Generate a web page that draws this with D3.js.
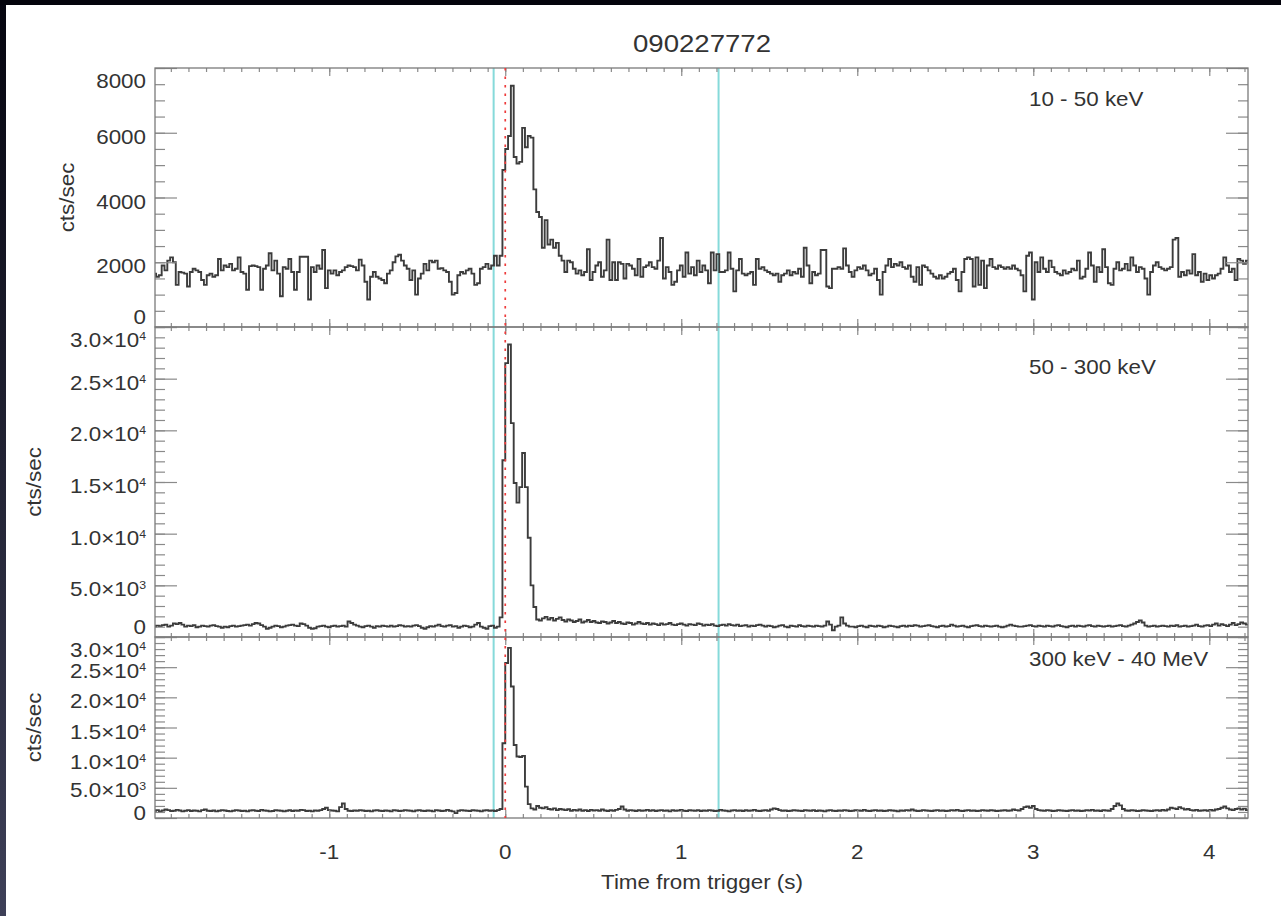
<!DOCTYPE html>
<html><head><meta charset="utf-8">
<script src="https://cdn.jsdelivr.net/npm/d3@7"></script>
<style>html,body{margin:0;padding:0;background:#fff;overflow:hidden}svg{display:block}</style>
</head><body>
<svg id="chart" width="1281" height="916"></svg>
<script>
// ---------------- DATA ----------------
const title = "090227772";
const xAxisTitle = "Time from trigger (s)";
const yAxisTitle = "cts/sec";
const binStart = -2.0;      // s, left edge of first bin
const binWidth = 0.016;     // s
const bandLabels = ["10 - 50 keV", "50 - 300 keV", "300 keV - 40 MeV"];
const xDomain = [-1.99, 4.22];
const xMajorTicks = [-1, 0, 1, 2, 3, 4];
const xTickLabels = ["-1", "0", "1", "2", "3", "4"];
const cyanTimes = [-0.066, 1.212];
const triggerTime = 0;

const yMaxes = [8000, 30000, 30000];
const yMajorSteps = [2000, 5000, 5000];
const yMinorSteps = [500, 1000, 1000];
const yTickValues1 = [0, 2000, 4000, 6000, 8000];
const yTickMant1 = ["0", "2000", "4000", "6000", "8000"];
const yTickExp1 = [null, null, null, null, null];
const yTickValues23 = [0, 5000, 10000, 15000, 20000, 25000, 30000];
const yTickMant23 = ["0", "5.0", "1.0", "1.5", "2.0", "2.5", "3.0"];
const yTickExp23 = [null, "3", "4", "4", "4", "4", "4"];

// count rates (cts/sec) in 16 ms bins starting at -2.0 s
const rate10to50 = [
1650,1550,1600,1900,1750,2050,2150,2000,1300,1700,
1680,1650,1250,1700,1800,1750,1700,1450,1300,1600,
1650,1550,1600,2100,1750,1900,1850,1950,1750,1800,
2150,1700,1650,1150,1880,1900,1880,1850,1150,1800,
1900,2280,1750,2050,1650,950,1850,1800,2100,1700,
1150,1700,2170,2170,2170,850,1850,1700,1900,1800,
2380,1200,1750,1650,1750,1600,1700,1750,1850,1900,
1880,1850,1750,2080,1900,1400,850,1550,1700,1550,
1500,1450,1350,1650,1750,2000,2180,2230,2050,1900,
1800,1450,1750,1000,1500,1650,1950,1750,2050,2000,
2050,1800,1820,1750,1700,1400,1000,1050,1600,1700,
1650,1750,1800,1650,1300,1350,1800,1850,1950,1800,
1900,2200,1900,2200,
4850,5500,5900,7450,5250,5050,5100,6150,5550,5900,
5850,4250,3550,3400,2450,3300,2550,2700,2450,2600,
2200,2050,1700,
2050,2000,1800,1650,1750,1600,1700,2400,1450,1700,
1900,2000,1550,1750,2700,1450,2000,1450,2000,1950,
1500,1950,1900,1800,1600,2100,1550,1850,1900,2000,
1850,1800,2050,2750,1500,1850,1700,1300,1400,1750,
1900,1550,2300,1650,1850,1600,2050,1700,
1900,1750,1350,2300,1750,2250,1700,1700,1750,2300,
1800,1100,1750,2100,1650,1600,1650,1700,1300,2100,
1800,1850,1750,1700,1650,1600,1650,1400,1600,1650,
1750,1600,1700,1650,1800,1550,2450,1900,1350,1700,
1600,1650,2380,2380,1250,1200,1800,1800,1850,1800,
2430,1900,1700,1550,1750,1850,1800,1900,1750,1600,
1650,1800,1450,1000,1700,1900,2100,1850,1950,1900,
2000,1850,1800,1900,1550,1400,1850,1300,1900,1850,
1750,1650,1550,1500,1600,1500,1550,1650,1700,1800,
1450,1100,1700,2100,2150,2100,1250,2150,1300,2050,
1200,1900,2100,1850,1800,1900,1850,1800,1850,1800,
1900,1800,1750,1600,1100,2200,2300,850,2000,1700,
2150,1800,1700,2050,1850,1700,1650,1600,1750,1650,
1700,1800,1750,2050,1500,1550,1800,2300,1900,1400,
1850,1700,2400,1850,1350,1300,1800,2000,1750,1800,
1950,1750,2150,1900,1700,1850,1800,1500,1000,1700,
1900,2000,1850,1800,1750,1800,1850,2700,2750,1550,
1700,1600,1750,1650,2250,1600,1700,1400,1650,1450,
1600,1500,1600,1650,1800,2150,1900,1700,1800,1450,
2100,2050,1950,2050
];

const rate50to300 = [
1000,1100,1050,1150,1200,1000,1100,1300,1250,1350,
1200,1000,1100,1050,1150,950,1000,1100,1050,1000,
1100,1150,1050,1000,900,1000,950,1050,1100,1000,
1050,1100,1150,1200,1100,1250,1350,1300,1150,1000,
800,900,1000,1100,1050,950,1000,1100,1150,1200,
1100,1050,1300,1250,1100,900,800,850,1000,1050,
1100,1000,950,1050,1100,1000,1050,1100,1000,1500,
1350,1200,1100,1000,950,1050,1100,1000,900,1050,
1000,1100,1050,1000,1100,1000,1050,1150,1100,1000,
1050,1000,1100,1150,1050,900,800,950,1050,1000,
1100,1200,1050,1000,1100,1150,1000,1050,900,1000,
1100,1050,950,1000,1200,1350,1000,900,800,1050,
1100,900,1000,1900,
17100,26500,28300,20700,14900,13000,14500,17800,14500,9600,
5000,2900,1700,1600,
1800,1950,1700,1850,1600,1750,1900,1650,1500,1700,
1600,1450,1550,1700,1400,1500,1650,1450,1550,1400,
1350,1500,1450,1300,1400,1550,1350,1450,1300,1250,
1400,1350,1200,1300,1450,1300,1250,1350,1200,1300,
1250,1150,1300,1200,1250,1350,1200,1150,1250,1300,
1200,1100,1250,1200,1150,1300,1250,1100,1200,1150,
1250,1100,1050,1150,1200,1100,1250,1150,1100,1200,
1050,1100,1150,1000,1100,1050,1150,1200,1100,1000,
1100,1050,950,1000,1100,1150,1000,950,1100,1050,
1000,1150,1050,1000,1100,1050,1000,1100,1050,1000,
1100,1500,1200,650,1000,1100,1900,1300,1100,1000,
1000,950,1050,1100,1000,950,1100,1050,1000,1100,
1050,950,1000,1100,1050,1000,950,1050,1100,1000,
1100,1050,1150,1100,1000,1050,1100,1150,1050,1000,
950,1050,1100,1000,1050,1200,1100,1000,1050,1100,
1000,950,1050,1100,1150,1050,1000,1100,1050,1000,
1050,1100,1000,950,1000,1100,1200,1100,1050,1000,
1000,1050,1100,1150,1050,1000,1100,1050,1000,1100,
1050,1000,1100,1150,1050,1000,950,1050,1100,1000,
1100,1050,1000,1100,1150,1050,1000,1100,1050,1000,
1050,1100,1000,1050,1100,1150,1050,1000,1100,1200,
1300,1450,1600,1400,1100,1000,1050,1100,1000,1050,
1100,1050,1000,1100,1050,1150,1000,1050,1100,1000,
1050,1100,1200,1050,1000,1100,1150,1050,1200,1300,
1100,1250,1150,1050,1200,1350,1150,1250,1400,1300,1200
];

const rate300to40M = [
1200,1300,1100,1250,1400,1300,1150,1200,1350,1250,
1100,1200,1300,1150,1250,1200,1100,1300,1400,1200,
1150,1250,1100,1200,1300,1250,1150,1100,1200,1300,
1250,1150,1200,1100,1250,1300,1200,1150,1350,1250,
1200,1100,1150,1300,1250,1200,1100,1200,1300,1150,
1250,1200,1350,1300,1150,1200,1100,1250,1200,1300,
1500,1700,1300,1250,1200,1100,1800,2400,1500,1200,
1150,1250,1200,1300,1250,1150,1200,1100,1250,1300,
1200,1150,1250,1200,1100,1300,1250,1150,1200,1300,
1250,1200,1100,1250,1300,1200,1150,1250,1200,1100,
1300,1250,1150,1200,1350,1200,1100,800,1200,1300,
1250,1200,1150,1300,1250,1200,1100,1250,1300,1200,
1250,1150,1300,1500,
12400,25700,28200,21800,12100,10200,10100,10300,5200,2300,
1600,1400,
2000,1700,1600,1800,1500,1400,1600,1300,1500,1400,
1300,1450,1200,1350,1250,1400,1200,1300,1150,1350,
1250,1300,1200,1400,1250,1150,1300,1200,1350,1500,
1900,1400,1200,1300,1250,1150,1300,1200,1250,1350,
1200,1300,1150,1250,1300,1200,1250,1100,1300,1200,
1250,1350,1200,1150,1300,1250,1200,1300,1150,1250,
1200,1300,1250,1150,1200,1350,1250,1200,1100,1250,
1300,1200,1250,1150,1300,1200,1250,1350,1200,1150,
1250,1300,1200,1400,1600,1500,1300,1200,1250,1150,
1200,1300,1250,1200,1150,1300,1250,1200,1300,1150,
1250,1200,1100,1250,1300,1200,1150,1250,1200,1300,
1250,1150,1200,1300,1250,1200,1350,1200,1150,1250,
1300,1200,1250,1150,1200,1300,1250,1200,1100,1250,
1200,1300,1250,1400,1250,1150,1200,1300,1250,1200,
1150,1250,1300,1200,1250,1150,1200,1300,1250,1350,
1200,1150,1250,1300,1200,1250,1150,1200,1300,1250,
1200,1300,1250,1150,1200,1250,1300,1200,1250,1400,
1300,1250,1500,1800,1900,1700,2000,1500,1300,1250,
1200,1300,1250,1150,1200,1300,1250,1200,1150,1250,
1300,1200,1250,1150,1200,1300,1250,1350,1200,1250,
1150,1300,1250,1200,1500,2000,2400,2100,1500,1250,
1200,1300,1250,1150,1200,1300,1250,1200,1150,1250,
1300,1200,1350,1250,1400,1700,1600,1500,1800,1600,
1400,1500,1300,1250,1350,1200,1250,1300,1200,1350,
1250,1400,1500,1700,1900,1600,1400,1300,1500,1600,
1400,1550,1300
];

// ---------------- LAYOUT ----------------
const W = 1281, H = 916;
const plotLeft = 155, plotRight = 1248;
const panelTops = [68, 327, 637];
const panelBottoms = [327, 637, 818];
const FONT = "'Liberation Sans', Arial, Helvetica, sans-serif";
const TXT = "#333";
const SX = 1.12;

const svg = d3.select("#chart");

// dark frame edges of the photograph
const defs = svg.append("defs");
const grad = defs.append("linearGradient").attr("id", "edge").attr("x1", 0).attr("y1", 0).attr("x2", 0).attr("y2", 1);
grad.append("stop").attr("offset", "0").attr("stop-color", "#05050f");
grad.append("stop").attr("offset", "1").attr("stop-color", "#3e4058");
svg.append("rect").attr("x", 0).attr("y", 0).attr("width", W).attr("height", H).attr("fill", "#fff");
svg.append("rect").attr("x", 0).attr("y", 0).attr("width", 6).attr("height", H).attr("fill", "url(#edge)");
svg.append("rect").attr("x", 0).attr("y", 0).attr("width", W).attr("height", 5).attr("fill", "#04040c");

defs.append("clipPath").attr("id", "plotclip").append("rect")
  .attr("x", plotLeft).attr("y", panelTops[0]).attr("width", plotRight - plotLeft).attr("height", panelBottoms[2] - panelTops[0]);

const x = d3.scaleLinear().domain(xDomain).range([plotLeft, plotRight]);

function stretchedText(parent, px, py, str, opt = {}) {
  const size = opt.size || 20;
  const sx = opt.sx || SX;
  const rot = opt.rotate ? ` rotate(${opt.rotate})` : "";
  return parent.append("text")
    .attr("transform", `translate(${px},${py})${rot} scale(${sx},1)`)
    .attr("font-family", FONT).attr("font-size", size).attr("fill", TXT)
    .attr("text-anchor", opt.anchor || "start")
    .text(str);
}

// vertical marker lines (behind data)
const markers = svg.append("g").attr("clip-path", "url(#plotclip)");
cyanTimes.forEach(t => {
  markers.append("line").attr("x1", x(t)).attr("x2", x(t))
    .attr("y1", panelTops[0]).attr("y2", panelBottoms[2])
    .attr("stroke", "#86dada").attr("stroke-width", 2);
});

const series = [rate10to50, rate50to300, rate300to40M];
const xMinorTicks = d3.range(-19, 43).map(d => d / 10);

series.forEach((rates, p) => {
  const yT = panelTops[p], yB = panelBottoms[p];
  const y = d3.scaleLinear().domain([0, yMaxes[p]]).range([yB, yT]);
  const g = svg.append("g");

  // step histogram
  const pts = rates.map((v, i) => [binStart + i * binWidth, v]);
  pts.push([binStart + rates.length * binWidth, rates[rates.length - 1]]);
  const line = d3.line().x(d => x(d[0])).y(d => y(d[1])).curve(d3.curveStepAfter);
  g.append("path").datum(pts).attr("d", line)
    .attr("clip-path", "url(#plotclip)")
    .attr("fill", "none").attr("stroke", "#3c3c3c").attr("stroke-width", 1.9)
    .attr("stroke-linejoin", "miter");

  // ticks via d3 axes (inward)
  const tickColor = "#8a8a8a";
  const styleAxis = sel => { sel.select(".domain").remove(); sel.selectAll("line").attr("stroke", tickColor).attr("stroke-width", 1.2); sel.selectAll("text").remove(); };
  const yMinor = d3.range(0, yMaxes[p] + 1, yMinorSteps[p]);
  const yMajor = d3.range(0, yMaxes[p] + 1, yMajorSteps[p]);
  g.append("g").attr("transform", `translate(0,${yB})`).call(d3.axisBottom(x).tickValues(xMinorTicks).tickSize(-4).tickSizeOuter(0)).call(styleAxis);
  g.append("g").attr("transform", `translate(0,${yB})`).call(d3.axisBottom(x).tickValues(xMajorTicks).tickSize(-8).tickSizeOuter(0)).call(styleAxis);
  g.append("g").attr("transform", `translate(0,${yT})`).call(d3.axisTop(x).tickValues(xMinorTicks).tickSize(-4).tickSizeOuter(0)).call(styleAxis);
  g.append("g").attr("transform", `translate(0,${yT})`).call(d3.axisTop(x).tickValues(xMajorTicks).tickSize(-8).tickSizeOuter(0)).call(styleAxis);
  g.append("g").attr("transform", `translate(${plotLeft},0)`).call(d3.axisLeft(y).tickValues(yMinor).tickSize(-10).tickSizeOuter(0)).call(styleAxis);
  g.append("g").attr("transform", `translate(${plotLeft},0)`).call(d3.axisLeft(y).tickValues(yMajor).tickSize(-22).tickSizeOuter(0)).call(styleAxis);
  g.append("g").attr("transform", `translate(${plotRight},0)`).call(d3.axisRight(y).tickValues(yMinor).tickSize(-10).tickSizeOuter(0)).call(styleAxis);
  g.append("g").attr("transform", `translate(${plotRight},0)`).call(d3.axisRight(y).tickValues(yMajor).tickSize(-22).tickSizeOuter(0)).call(styleAxis);

  // frame
  g.append("rect").attr("x", plotLeft).attr("y", yT).attr("width", plotRight - plotLeft).attr("height", yB - yT)
    .attr("fill", "none").attr("stroke", "#7a7a7a").attr("stroke-width", 1.3);

  // y tick labels
  const vals = p === 0 ? yTickValues1 : yTickValues23;
  const mants = p === 0 ? yTickMant1 : yTickMant23;
  const exps = p === 0 ? yTickExp1 : yTickExp23;
  const lastPanel = p === series.length - 1;
  vals.forEach((v, i) => {
    let base = y(v) + 11;
    if (i === vals.length - 1) base = y(v) + 20;
    if (i === 0) base = lastPanel ? y(v) + 2 : y(v) - 3;
    if (lastPanel && i === 1) base = y(v) + 9;
    const t = stretchedText(g, 146, base, exps[i] ? mants[i] + "×10" : mants[i], { anchor: "end" });
    if (exps[i]) t.append("tspan").attr("font-size", 11).attr("dy", -7).text(exps[i]);
  });

  // y axis title
  stretchedText(g, p === 0 ? 74 : 41, (yT + yB) / 2, yAxisTitle, { anchor: "middle", rotate: -90 });

  // band label
  const bandBase = [106, 374, 666][p];
  stretchedText(g, 1029, bandBase, bandLabels[p]);
});

// trigger line (red dotted)
svg.append("line").attr("x1", x(triggerTime)).attr("x2", x(triggerTime))
  .attr("y1", panelTops[0]).attr("y2", panelBottoms[2])
  .attr("stroke", "#ee3b3b").attr("stroke-width", 1.7).attr("stroke-dasharray", "2.5,6");

// x tick labels (bottom panel only)
xMajorTicks.forEach((t, i) => {
  stretchedText(svg, x(t), 859, xTickLabels[i], { anchor: "middle" });
});

// x axis title and main title
stretchedText(svg, 702, 889, xAxisTitle, { anchor: "middle" });
stretchedText(svg, 702, 52, title, { anchor: "middle", size: 24, sx: 1.15 });
</script>
</body></html>
